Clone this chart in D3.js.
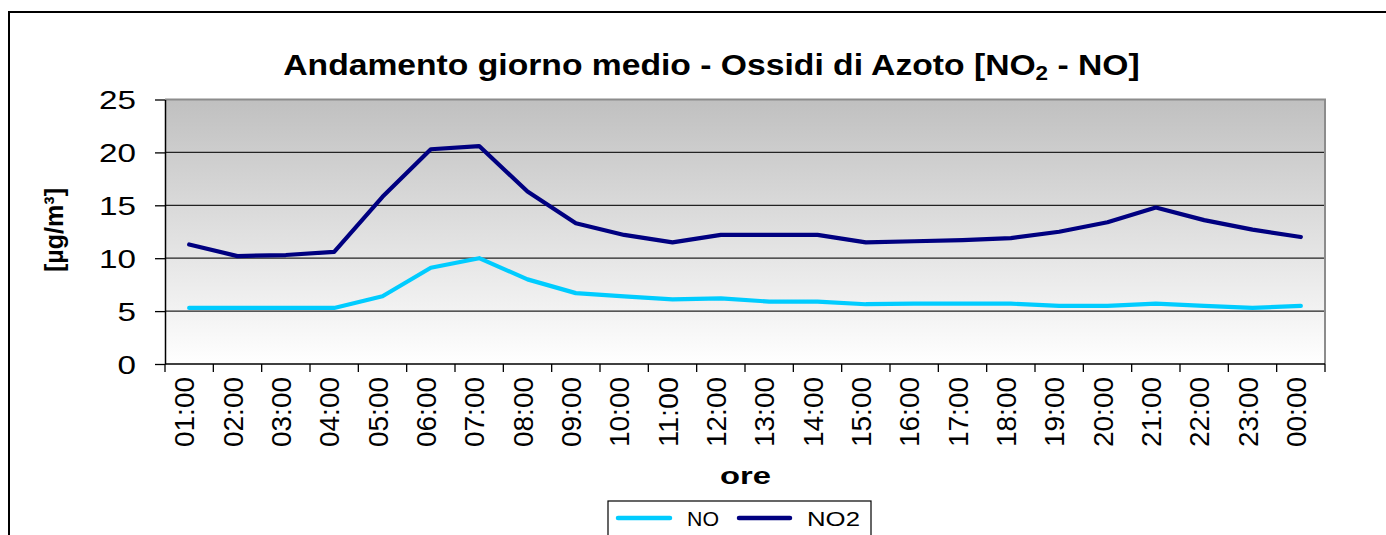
<!DOCTYPE html>
<html><head><meta charset="utf-8">
<script src="https://cdn.jsdelivr.net/npm/d3@7"></script>
<style>html,body{margin:0;padding:0;background:#fff;overflow:hidden}svg{display:block;font-family:"Liberation Sans",Arial,sans-serif}</style>
</head><body><svg id="c" width="1386" height="535"></svg>
<script>
const hours = ["01:00","02:00","03:00","04:00","05:00","06:00","07:00","08:00","09:00","10:00","11:00","12:00","13:00","14:00","15:00","16:00","17:00","18:00","19:00","20:00","21:00","22:00","23:00","00:00"];
const noValues  = [5.3,5.3,5.3,5.3,6.4,9.1,10.0,8.0,6.7,6.4,6.1,6.2,5.9,5.9,5.65,5.7,5.7,5.7,5.5,5.5,5.7,5.5,5.3,5.5];
const no2Values = [11.3,10.2,10.3,10.6,15.8,20.3,20.6,16.3,13.3,12.2,11.5,12.2,12.2,12.2,11.5,11.6,11.7,11.9,12.5,13.4,14.8,13.6,12.7,12.0];
const yTicks = [0,5,10,15,20,25];
const seriesNames = ["NO","NO2"];
const seriesColors = ["#00ccff","#000080"];

const svg = d3.select("#c");
const L = 165, R = 1325, T = 99.5, B = 364;

// outer frame
svg.append("rect").attr("x",9).attr("y",12).attr("width",1400).attr("height",600)
  .attr("fill","#fff").attr("stroke","#000").attr("stroke-width",2);

const x = d3.scaleBand().domain(hours).range([L,R]).padding(0);
const y = d3.scaleLinear().domain([0,25]).range([B,T]);

// plot background gradient
const defs = svg.append("defs");
const grad = defs.append("linearGradient").attr("id","bg").attr("x1",0).attr("y1",0).attr("x2",0).attr("y2",1);
grad.append("stop").attr("offset","0%").attr("stop-color","#c0c0c0");
grad.append("stop").attr("offset","100%").attr("stop-color","#ffffff");
svg.append("rect").attr("x",L).attr("y",T).attr("width",R-L).attr("height",B-T).attr("fill","url(#bg)");

// gridlines
svg.append("g").selectAll("line").data(yTicks.filter(d=>d>0 && d<25)).join("line")
  .attr("x1",L).attr("x2",R).attr("y1",d=>y(d)).attr("y2",d=>y(d))
  .attr("stroke","#222").attr("stroke-width",1.3);

// plot border top/right (gray)
svg.append("path").attr("d",`M${L},${y(25)}H${R}V${B}`).attr("fill","none")
  .attr("stroke","#8c8c8c").attr("stroke-width",2);

// y axis
const yAxis = svg.append("g").attr("transform",`translate(${L},0)`)
  .call(d3.axisLeft(y).tickValues(yTicks).tickSize(10).tickSizeOuter(0));
yAxis.select(".domain").attr("stroke","#000").attr("stroke-width",1.5);
yAxis.selectAll(".tick line").attr("stroke","#000").attr("stroke-width",1.3);
yAxis.selectAll(".tick text").attr("x",0).attr("dy",null).attr("y",9)
  .attr("font-size",25).attr("fill","#000").attr("font-family","Liberation Sans, Arial, sans-serif")
  .attr("text-anchor","end").attr("transform","translate(-29,0) scale(1.33,1)");

// x axis line + boundary ticks
svg.append("line").attr("x1",L).attr("x2",R).attr("y1",B).attr("y2",B).attr("stroke","#000").attr("stroke-width",1.5);
svg.append("g").selectAll("line").data(d3.range(hours.length+1)).join("line")
  .attr("x1",i=>x.range()[0]+i*x.step()).attr("x2",i=>x.range()[0]+i*x.step())
  .attr("y1",B).attr("y2",B+8).attr("stroke","#000").attr("stroke-width",1.3);
// x labels
svg.append("g").selectAll("text").data(hours).join("text")
  .attr("transform",d=>`translate(${x(d)+x.bandwidth()/2+5},377) rotate(-90)`)
  .attr("text-anchor","end").attr("font-size",27).attr("fill","#000")
  .attr("textLength",70).attr("lengthAdjust","spacingAndGlyphs").text(d=>d);

// lines
const line = d3.line().x((d,i)=>x(hours[i])+x.bandwidth()/2).y(d=>y(d));
[noValues,no2Values].forEach((vals,k)=>{
  svg.append("path").datum(vals).attr("d",line).attr("fill","none")
    .attr("stroke",seriesColors[k]).attr("stroke-width",4.2)
    .attr("stroke-linejoin","round").attr("stroke-linecap","round");
});

function fitW(g, target){
  const w = g.node().getBBox().width;
  return target/w;
}

// title
const tg = svg.append("g");
const tt = tg.append("text").attr("font-size",30).attr("font-weight","bold").attr("fill","#000").attr("text-anchor","middle");
tt.append("tspan").text("Andamento giorno medio - Ossidi di Azoto [NO");
tt.append("tspan").attr("font-size",20).attr("dy",5).text("2");
tt.append("tspan").attr("dy",-5).text(" - NO]");
const tk = fitW(tt, 857);
tg.attr("transform",`translate(711.5,75) scale(${tk},1)`);

// y axis title
svg.append("text").attr("transform","translate(63,230) rotate(-90)")
  .attr("text-anchor","middle").attr("font-size",26).attr("font-weight","bold").attr("fill","#000")
  .attr("textLength",84).attr("lengthAdjust","spacingAndGlyphs")
  .text("[µg/m³]");

// x axis title
const og = svg.append("g");
const ot = og.append("text").attr("font-size",24).attr("font-weight","bold").attr("text-anchor","middle").attr("fill","#000").text("ore");
og.attr("transform",`translate(745.5,484) scale(${fitW(ot,51)},1)`);

// legend
svg.append("rect").attr("x",608).attr("y",501).attr("width",263).attr("height",60)
  .attr("fill","#fff").attr("stroke","#000").attr("stroke-width",1.2);
const legX = [[616,672,687,719],[737,792,807,860]];
seriesNames.forEach((n,k)=>{
  const [lx1,lx2,tx1,tx2] = legX[k];
  svg.append("line").attr("x1",lx1+2).attr("x2",lx2-2).attr("y1",518).attr("y2",518)
    .attr("stroke",seriesColors[k]).attr("stroke-width",4.5).attr("stroke-linecap","round");
  const g = svg.append("g");
  const t = g.append("text").attr("font-size",21).attr("fill","#000").text(n);
  g.attr("transform",`translate(${tx1},525.5) scale(${fitW(t,tx2-tx1)},1)`);
});
</script></body></html>
